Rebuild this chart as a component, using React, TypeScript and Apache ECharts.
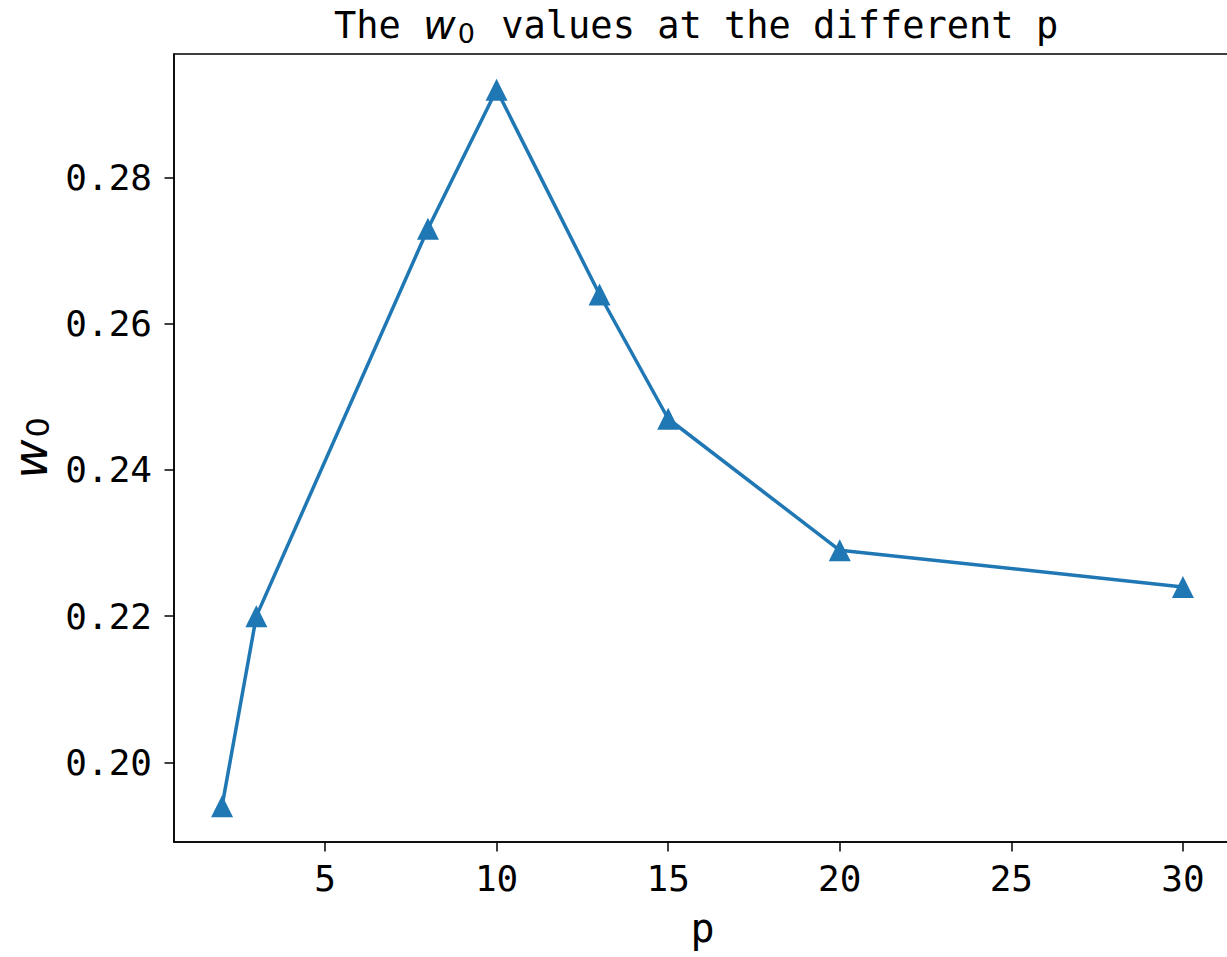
import React, { useEffect, useRef } from "react";
import * as echarts from "echarts";

const pValues = [2, 3, 8, 10, 13, 15, 20, 30];
const w0Values = [0.194, 0.22, 0.273, 0.292, 0.264, 0.247, 0.229, 0.224];
const xTicks = [5, 10, 15, 20, 25, 30];
const yTicks = [0.2, 0.22, 0.24, 0.26, 0.28];

const FONT = "DejaVu Sans Mono";

export default function App() {
  const ref = useRef<HTMLDivElement>(null);
  useEffect(() => {
    if (!ref.current) return;
    const chart = echarts.init(ref.current, null, { renderer: "svg" });
    chart.setOption({
      animation: false,
      backgroundColor: "#ffffff",
      title: {
        text: "{n|The }{i|w}{s|0}{n| values at the different p}",
        left: 329,
        top: -2,
        textStyle: {
          fontWeight: "normal",
          rich: {
            n: { fontFamily: FONT, fontSize: 37, fontWeight: "normal", color: "#000", lineHeight: 44 },
            i: { fontFamily: "DejaVu Sans", fontStyle: "italic", fontWeight: "normal", fontSize: 40, color: "#000", lineHeight: 44 },
            s: { fontFamily: "DejaVu Sans", fontSize: 27, fontWeight: "normal", color: "#000", lineHeight: 30, verticalAlign: "bottom", padding: [0, 4, 0, 2] },
          },
        },
      },
      grid: {
        left: 174,
        right: -4,
        top: 54,
        bottom: 115,
        show: true,
        borderColor: "#000",
        borderWidth: 1.5,
        backgroundColor: "transparent",
        containLabel: false,
        outerBoundsMode: "none",
      },
      xAxis: {
        type: "value",
        min: 0.6,
        max: 31.4,
        name: "p",
        nameLocation: "middle",
        nameGap: 66,
        nameTextStyle: { fontFamily: FONT, fontSize: 40, color: "#000" },
        axisLine: { show: true, lineStyle: { color: "#000", width: 1.5 } },
        axisTick: { show: true, length: 9.5, lineStyle: { color: "#000", width: 1.5 }, customValues: xTicks },
        axisLabel: {
          customValues: xTicks,
          fontFamily: FONT,
          fontSize: 36,
          color: "#000",
          margin: 18,
        },
        splitLine: { show: false },
      },
      yAxis: {
        type: "value",
        min: 0.1891,
        max: 0.2969,
        name: "{i|w}{s|0}",
        nameLocation: "middle",
        nameGap: 104,
        nameTextStyle: {
          rich: {
            i: { fontFamily: "DejaVu Sans", fontStyle: "italic", fontSize: 48, color: "#000", lineHeight: 48 },
            s: { fontFamily: "DejaVu Sans", fontSize: 32, color: "#000", lineHeight: 32, verticalAlign: "bottom", padding: [0, 0, 0, 2] },
          },
        },
        axisLine: { show: true, lineStyle: { color: "#000", width: 1.5 } },
        axisTick: { show: true, length: 9.5, lineStyle: { color: "#000", width: 1.5 }, customValues: yTicks },
        axisLabel: {
          customValues: yTicks,
          fontFamily: FONT,
          fontSize: 36,
          color: "#000",
          margin: 22,
          formatter: (v: number) => v.toFixed(2),
        },
        splitLine: { show: false },
      },
      series: [
        {
          type: "line",
          data: pValues.map((p, i) => [p, w0Values[i]]),
          symbol: "triangle",
          symbolSize: 22,
          showSymbol: true,
          lineStyle: { color: "#1f77b4", width: 3.5 },
          itemStyle: { color: "#1f77b4" },
          clip: false,
        },
      ],
    });
    return () => chart.dispose();
  }, []);
  return (
    <div
      ref={ref}
      style={{ position: "fixed", left: 0, top: 0, width: 1227, height: 957, background: "#fff" }}
    />
  );
}
